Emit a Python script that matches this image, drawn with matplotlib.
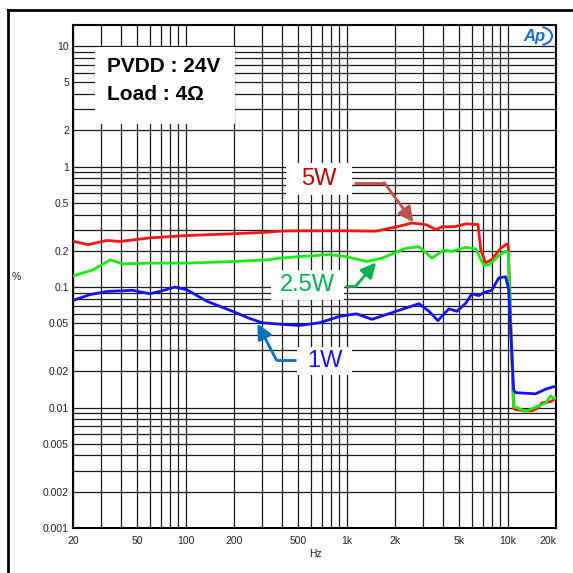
import numpy as np
import matplotlib
matplotlib.use("Agg")
import matplotlib.pyplot as plt
from matplotlib.lines import Line2D
from matplotlib.patches import Arc
from matplotlib.ticker import FixedLocator, NullFormatter

plt.rcParams['font.family'] = ['Liberation Sans', 'DejaVu Sans']

# THD+N vs frequency, PVDD 24V, 4 ohm load
freq_5w = [20, 24.8, 32.5, 39, 60, 102, 196, 318, 383, 509, 995, 1525, 2030, 2550,
           3110, 3590, 3910, 4770, 5500, 6550, 6820, 7320, 7970, 9060, 9870, 10100,
           10900, 11230, 12950, 14220, 15600, 16270, 18490, 19300, 20000]
thd_5w = [0.240, 0.225, 0.244, 0.239, 0.256, 0.268, 0.277, 0.285, 0.291, 0.293, 0.293,
          0.291, 0.316, 0.340, 0.330, 0.300, 0.316, 0.318, 0.335, 0.330, 0.203, 0.159,
          0.169, 0.210, 0.228, 0.220, 0.0098, 0.0096, 0.0094, 0.0094, 0.0100, 0.0109,
          0.0112, 0.0116, 0.0118]

freq_2w5 = [20, 26.6, 34, 40.8, 60, 102, 196, 318, 383, 509, 780, 995, 1340, 1660,
            2340, 2820, 3390, 4020, 4510, 5500, 6350, 7110, 7640, 8810, 9730, 10100,
            10900, 11230, 12950, 15590, 17220, 18490, 19300, 20000]
thd_2w5 = [0.124, 0.139, 0.168, 0.156, 0.158, 0.158, 0.163, 0.168, 0.174, 0.179, 0.186,
           0.179, 0.163, 0.174, 0.210, 0.216, 0.174, 0.203, 0.198, 0.214, 0.207, 0.152,
           0.152, 0.182, 0.198, 0.195, 0.0101, 0.0101, 0.0093, 0.0103, 0.0109, 0.0125,
           0.0119, 0.0121]

freq_1w = [20, 25.5, 32.5, 47, 60, 69, 86, 102, 135, 196, 249, 300, 400, 509, 677, 900,
           1150, 1440, 2030, 2820, 3250, 3690, 4320, 4840, 5500, 6000, 6620, 7110, 7970,
           8810, 9730, 10160, 10910, 11230, 14930, 17220, 19300, 20000]
thd_1w = [0.0775, 0.0866, 0.092, 0.094, 0.088, 0.092, 0.100, 0.095, 0.0765, 0.0629,
          0.055, 0.0505, 0.049, 0.048, 0.0505, 0.057, 0.060, 0.054, 0.063, 0.0728, 0.063,
          0.0527, 0.066, 0.063, 0.0735, 0.088, 0.085, 0.090, 0.094, 0.119, 0.122, 0.095,
          0.0140, 0.0133, 0.0130, 0.0142, 0.0149, 0.0150]

x_ticks = [20, 50, 100, 200, 500, 1000, 2000, 5000, 10000, 20000]
x_labels = ['20', '50', '100', '200', '500', '1k', '2k', '5k', '10k', '20k']
y_ticks = [0.001, 0.002, 0.005, 0.01, 0.02, 0.05, 0.1, 0.2, 0.5, 1, 2, 5, 10]
y_labels = ['0.001', '0.002', '0.005', '0.01', '0.02', '0.05', '0.1', '0.2', '0.5',
            '1', '2', '5', '10']

fig = plt.figure(figsize=(5.73, 5.73), dpi=100)
ax = fig.add_axes([0.1274, 0.0785, 0.843, 0.878])
ax.set_xscale('log')
ax.set_yscale('log')
ax.set_xlim(20, 20000)
ax.set_ylim(0.001, 15)

# grid: every decade subdivision
minor_x = [m * 10**e for e in range(1, 5) for m in range(1, 10)]
minor_y = [m * 10.0**e for e in range(-3, 2) for m in range(1, 10)]
ax.xaxis.set_minor_locator(FixedLocator(minor_x))
ax.yaxis.set_minor_locator(FixedLocator(minor_y))
ax.xaxis.set_minor_formatter(NullFormatter())
ax.yaxis.set_minor_formatter(NullFormatter())
ax.grid(True, which='both', color='#1a1a1a', lw=0.9)
ax.set_axisbelow(True)

ax.set_xticks(x_ticks)
ax.set_xticklabels(x_labels)
ax.set_yticks(y_ticks)
ax.set_yticklabels(y_labels)
ax.tick_params(which='both', length=0, labelsize=7.5, colors='#222222')
ax.tick_params(axis='x', pad=6)
ax.tick_params(axis='y', pad=3)
ax.get_xticklabels()[-1].set_ha('right')
for s in ax.spines.values():
    s.set_linewidth(1.5)

ax.plot(freq_5w, thd_5w, color='#ff1414', lw=2, zorder=3)
ax.plot(freq_2w5, thd_2w5, color='#14ee14', lw=2, zorder=3)
ax.plot(freq_1w, thd_1w, color='#1414f0', lw=2, zorder=3)

# labels in white boxes with elbow arrows
def callout(text, box_x, box_y, start, corner, tip, tcolor, acolor):
    ax.fill_between(box_x, box_y[0], box_y[1], color='white', lw=0, zorder=4)
    tx = np.sqrt(box_x[0] * box_x[1])
    ty = np.sqrt(box_y[0] * box_y[1])
    ax.text(tx, ty, text, color=tcolor, fontsize=17, ha='center', va='center', zorder=5)
    ax.plot([start[0], corner[0]], [start[1], corner[1]], color=acolor, lw=2, zorder=5,
            solid_capstyle='butt')
    ax.annotate('', xy=tip, xytext=corner, zorder=5,
                arrowprops=dict(arrowstyle='-|>,head_length=0.9,head_width=0.45',
                                color=acolor, lw=2, shrinkA=0, shrinkB=0))

callout('5W', (423, 1084), (0.586, 1.08), (1114, 0.738), (1710, 0.738), (2600, 0.345),
        '#c00000', '#c0504d')
callout('2.5W', (341, 966), (0.0785, 0.1396), (980, 0.1027), (1147, 0.1027),
        (1525, 0.160), '#00b050', '#00b050')
callout('1W', (494, 1084), (0.0187, 0.032), (488, 0.0249), (366, 0.0249), (280, 0.0497),
        '#1414ff', '#0070c0')

# condition box
ax.add_patch(plt.Rectangle((0.0455, 0.803), 0.29, 0.153, transform=ax.transAxes,
                           fc='white', ec='none', zorder=4))
ax.text(0.07, 0.9165, 'PVDD : 24V', transform=ax.transAxes, fontsize=15,
        fontweight='bold', va='center', zorder=5)
ax.text(0.07, 0.861, 'Load : 4\u03a9', transform=ax.transAxes, fontsize=15,
        fontweight='bold', va='center', zorder=5)

# Ap logo
ax.text(0.978, 0.976, 'Ap', transform=ax.transAxes, fontsize=12, fontstyle='italic',
        fontweight='bold', color='#1a6fc4', ha='right', va='center', zorder=5)
fig.add_artist(Arc((540 / 573, 1 - 36 / 573), 24 / 573, 18 / 573, theta1=-75, theta2=75,
                   color='#1a6fc4', lw=1.5))

fig.text(16 / 573, 1 - 277 / 573, '%', fontsize=7.5, color='#222222', ha='center',
         va='center')
fig.text(315 / 573, 1 - 554 / 573, 'Hz', fontsize=7.5, color='#222222', ha='center',
         va='center')

# outer frame, top and left edges
fig.add_artist(Line2D([8 / 573, 8 / 573], [0, 1 - 10 / 573], color='black', lw=2))
fig.add_artist(Line2D([8 / 573, 1], [1 - 10 / 573, 1 - 10 / 573], color='black', lw=2))

fig.savefig('out.png', dpi=100)
